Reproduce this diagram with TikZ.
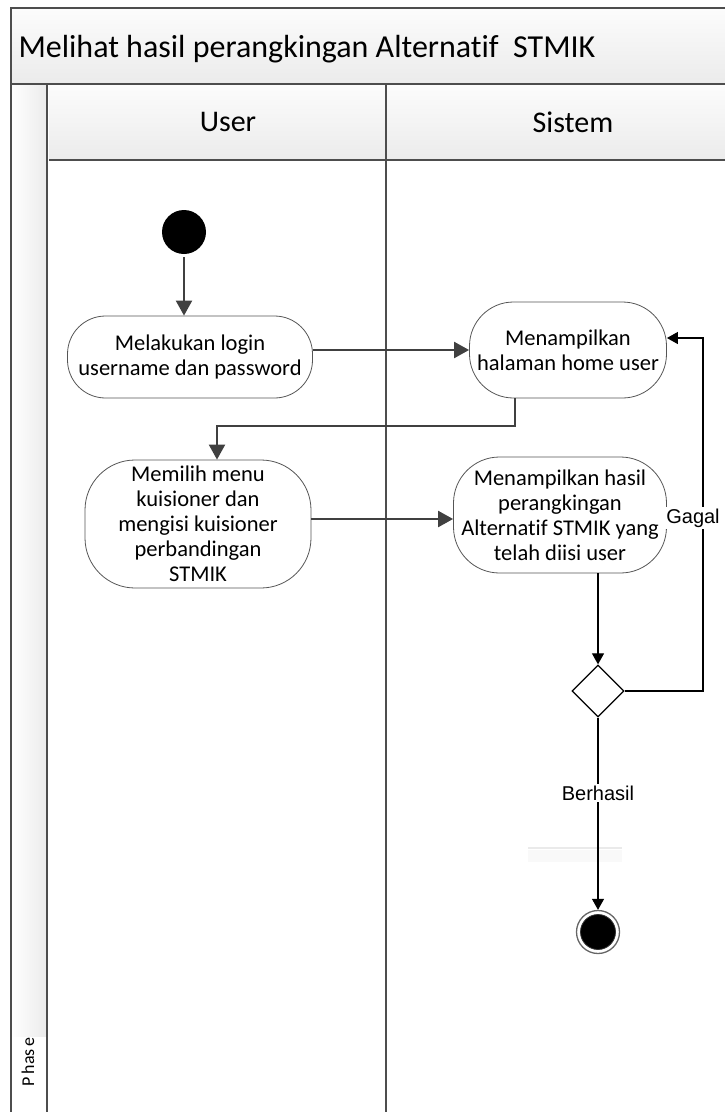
\documentclass[tikz,border=0pt]{standalone}
\usepackage{fontspec}
\setmainfont{Carlito}[Ligatures={NoCommon,NoRequired}]
\newfontfamily\arialf{Liberation Sans}
\usetikzlibrary{arrows.meta,shapes.geometric}
\definecolor{framec}{HTML}{4D4D4D}
\definecolor{connc}{HTML}{404040}
\definecolor{shtop}{HTML}{FCFCFC}
\definecolor{shbot}{HTML}{EBEBEB}
\definecolor{faint}{HTML}{EAEAEA}
\definecolor{faintbg}{HTML}{F9F9F9}
\definecolor{actline}{HTML}{555555}
\begin{document}
\begin{tikzpicture}[x=1pt,y=-1pt,
  framel/.style={draw=framec,line width=1.8pt},
  act/.style={draw=actline,line width=0.8pt,fill=white,align=center,inner sep=0pt,
    font=\fontsize{22.5}{25}\selectfont},
  bigarr/.style={draw=connc,line width=2.2pt,-{Triangle[length=15pt,width=16pt]}},
  smallarr/.style={draw=black,line width=1.1pt,-{Triangle[length=11pt,width=12pt]}},
  lbl/.style={fill=white,inner sep=1.5pt,font=\arialf\fontsize{20}{23}\selectfont},
  hdr/.style={font=\fontsize{30}{34}\selectfont}
]
\useasboundingbox (0,0) rectangle (725,1112);
\clip (0,0) rectangle (725,1112);

% shaded bands: title row, lane headers, phase column
\shade[top color=shtop,bottom color=shbot] (11,8) rectangle (780,84);
\shade[top color=shtop,bottom color=shbot] (49,84) rectangle (780,160);
\shade[left color=white,right color=shbot] (11,84) rectangle (47,1036);

% swimlane frame
\draw[framel] (11,1120) -- (11,8) -- (780,8);
\draw[framel] (11,84) -- (780,84);
\draw[framel] (47,84) -- (47,1120);
\draw[framel] (49,160) -- (780,160);
\draw[framel] (386,84) -- (386,1120);

% titles
\node[anchor=west,font=\fontsize{32}{36}\selectfont] (title) at (15,49) {Melihat hasil perangkingan Alternatif\ \ STMIK};
\node[hdr] (user) at (228,122) {User};
\node[hdr] (sistem) at (573,122) {Sistem};
\node[rotate=90,font=\fontsize{18}{20}\selectfont] (phase) at (28,1062) {P\,has\,e};

% faint mark in the system lane
\fill[faintbg] (528,850) rectangle (622,862);
\draw[faint,line width=2pt] (528,848) -- (622,848);

% initial and final states
\node[circle,fill=black,minimum size=44pt,inner sep=0pt] (start) at (184,232) {};
\node[circle,draw=black!60,line width=1.3pt,fill=white,minimum size=43pt,inner sep=0pt] (final) at (598,932) {};
\node[circle,draw=black!80,fill=black,line width=0.8pt,minimum size=35pt,inner sep=0pt] (finalin) at (598,932) {};

% activities
\node[act,minimum width=245pt,minimum height=82pt,rounded corners=38pt] (login) at (190,357)
  {Melakukan login\\username dan password};
\node[act,minimum width=197pt,minimum height=96pt,rounded corners=44pt] (home) at (568,350)
  {Menampilkan\\halaman home user};
\node[act,minimum width=226pt,minimum height=128pt,rounded corners=50pt] (kuis) at (198,524)
  {Memilih menu\\kuisioner dan\\mengisi kuisioner\\perbandingan\\STMIK};
\node[act,minimum width=213pt,minimum height=116pt,rounded corners=46pt] (hasil) at (560,515)
  {Menampilkan hasil\\perangkingan\\Alternatif STMIK yang\\telah diisi user};

% decision
\node[diamond,draw=black,line width=1.3pt,fill=white,minimum width=52pt,minimum height=52pt,inner sep=0pt] (dec) at (598,691) {};

% bend points
\coordinate (hx) at (515,0);
\coordinate (b1) at (217,426);
\coordinate (hb) at (598,0);
\coordinate (g1) at (703,338);

% flows
\draw[bigarr] ([yshift=-3pt]start.south) -- (start.south |- login.north);
\draw[bigarr] (login.east |- home.west) -- (home.west);
\draw[bigarr] (hx |- home.south) |- (b1) -- (kuis.north -| b1);
\draw[bigarr] (kuis.east |- 0,519) -- (hasil.west |- 0,519);
\draw[smallarr] (hb |- hasil.south) -- (dec.north);
\draw[smallarr] (dec.east) -| (g1) -- (home.east |- g1);
\draw[smallarr] (dec.south) -- (final.north);

% guard labels
\node[lbl] (gagal) at (693,518) {Gagal};
\node[lbl] (berhasil) at (598,793) {Berhasil};
\end{tikzpicture}
\end{document}
